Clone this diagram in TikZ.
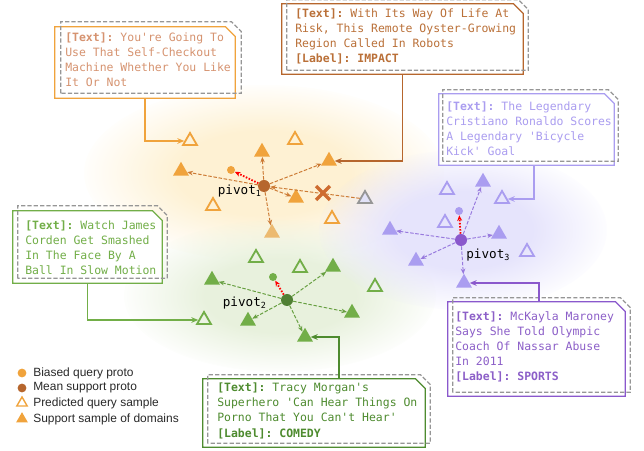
\documentclass[tikz,border=0pt]{standalone}
\usepackage{fontspec}
\setmonofont{DejaVu Sans Mono}
\setsansfont{Liberation Sans}
\usetikzlibrary{shapes.geometric,shapes.misc,arrows.meta,fadings}

\definecolor{orng}{RGB}{240,163,60}
\definecolor{orngtxt}{RGB}{214,147,112}
\definecolor{orngline}{RGB}{204,122,52}
\definecolor{orngpale}{RGB}{236,186,112}
\definecolor{brwn}{RGB}{182,102,45}
\definecolor{brwntxt}{RGB}{186,112,56}
\definecolor{crossclr}{RGB}{206,108,48}
\definecolor{grn}{RGB}{114,174,72}
\definecolor{grndark}{RGB}{80,128,52}
\definecolor{grntxt}{RGB}{78,139,47}
\definecolor{grnline}{RGB}{104,160,66}
\definecolor{lav}{RGB}{170,157,240}
\definecolor{lavfill}{RGB}{226,226,248}
\definecolor{prpl}{RGB}{138,88,204}
\definecolor{prpltxt}{RGB}{140,95,200}
\definecolor{prplline}{RGB}{152,122,222}
\definecolor{ghostgray}{RGB}{150,150,150}
\definecolor{keytxt}{RGB}{40,40,40}
\definecolor{blobO}{RGB}{254,241,211}
\definecolor{blobG}{RGB}{232,241,221}
\definecolor{blobP}{RGB}{230,228,252}

\newcommand{\apos}{\textquotesingle}
\newcommand{\chamferpath}[1]{(#1.south west) -- (#1.north west) -- ([xshift=-7pt]#1.north east) -- ([yshift=-7pt]#1.north east) -- (#1.south east) -- cycle}

\pgfdeclareradialshading{blobshading}{\pgfpointorigin}{color(0bp)=(pgftransparent!0); color(12bp)=(pgftransparent!0); color(26bp)=(pgftransparent!100); color(50bp)=(pgftransparent!100)}
\pgfdeclarefading{blob}{\pgfuseshading{blobshading}}

\tikzset{
	support/.style={regular polygon, regular polygon sides=3, inner sep=0pt, minimum size=0.46cm, fill=#1},
	query/.style={regular polygon, regular polygon sides=3, inner sep=0pt, minimum size=0.40cm, draw=#1, line width=1.3pt},
	pivot/.style={circle, inner sep=0pt, minimum size=0.3cm, fill=#1},
	proto/.style={circle, inner sep=0pt, minimum size=0.2cm, fill=#1},
	spoke/.style={draw=#1, line width=0.7pt, dash pattern=on 2.5pt off 1.2pt, -{Stealth[length=4pt,width=3.2pt]}},
	drift/.style={draw=red, line width=1.3pt, dash pattern=on 1.1pt off 1.1pt, -{Stealth[length=4pt,width=3.5pt]}},
	box/.style={rectangle, inner sep=0pt},
	frame/.style={draw=#1, line width=0.9pt, fill=white},
	ghost/.style={draw=ghostgray, line width=0.9pt, dash pattern=on 3pt off 1.5pt},
	note/.style={anchor=north west, inner sep=0pt, align=left, text=#1, font=\ttfamily\fontsize{8.15}{10.67}\selectfont},
	link/.style={draw=#1, line width=0.9pt, -{Stealth[length=5pt,width=4pt]}},
	lbl/.style={inner sep=0pt, font=\ttfamily\fontsize{9}{10}\selectfont},
	key/.style={anchor=west, inner sep=0pt, text=keytxt, font=\sffamily\fontsize{8.5}{9}\selectfont},
}

\begin{document}
\begin{tikzpicture}[x=0.025cm, y=-0.025cm]

	\useasboundingbox (0,0) rectangle (644,451);

	% domain clouds
	\fill[blobO, path fading=blob] (264,173) ellipse [x radius=4.5cm, y radius=2.2cm];
	\fill[blobG, path fading=blob] (280,296) ellipse [x radius=3.9cm, y radius=1.9cm];
	\fill[blobP, path fading=blob] (463,230) ellipse [x radius=3.6cm, y radius=2.0cm];

	% domain 1
	\node[pivot=brwn] (p1) at (264,186) {};
	\node[proto=orng] (m1) at (231,170) {};
	\node[support=orng] (s1a) at (262,152) {};
	\node[support=orng] (s1b) at (181,171) {};
	\node[support=orng] (s1c) at (329,161) {};
	\node[support=orng] (s1d) at (296,198) {};
	\node[support=orngpale] (s1e) at (272,233) {};
	\node[query=orng] (q1a) at (190,141) {};
	\node[query=orng] (q1b) at (295,140) {};
	\node[query=orng] (q1c) at (213,206) {};
	\node[query=orng] (q1d) at (332,219) {};
	\node[query=ghostgray, fill=lavfill] (g1) at (365,199) {};
	\node[lbl, anchor=north east] (n1) at (262,185) {pivot\textsubscript{1}};

	\foreach \s in {s1a,s1b,s1c,s1d,s1e}
		\draw[spoke=orngline] (p1) -- (\s);
	\draw[spoke=orngline] (g1) -- (p1);
	\draw[drift] (p1) -- (m1);
	\node[cross out, draw=crossclr, line width=2.4pt, minimum size=0.26cm, inner sep=0pt] (x1) at (323,193) {};

	% domain 2
	\node[pivot=grndark] (p2) at (287,300) {};
	\node[proto=grn] (m2) at (273,277) {};
	\node[support=grn] (s2a) at (212,280) {};
	\node[support=grn] (s2b) at (333,267) {};
	\node[support=grn] (s2c) at (352,313) {};
	\node[support=grn] (s2d) at (248,321) {};
	\node[support=grn] (s2e) at (305,337) {};
	\node[query=grn] (q2a) at (256,258) {};
	\node[query=grn] (q2b) at (300,268) {};
	\node[query=grn] (q2c) at (204,320) {};
	\node[query=grn] (q2d) at (375,287) {};
	\node[lbl, anchor=north east] (n2) at (267,297) {pivot\textsubscript{2}};

	\foreach \s in {s2a,s2b,s2c,s2d,s2e}
		\draw[spoke=grnline] (p2) -- (\s);
	\draw[drift] (p2) -- (m2);

	% domain 3
	\node[pivot=prpl] (p3) at (461,240) {};
	\node[proto=lav] (m3) at (459,211) {};
	\node[support=lav] (s3a) at (483,182) {};
	\node[support=lav] (s3b) at (499,234) {};
	\node[support=lav] (s3c) at (390,230) {};
	\node[support=lav] (s3d) at (416,261) {};
	\node[support=lav] (s3e) at (464,283) {};
	\node[query=lav] (q3a) at (447,190) {};
	\node[query=lav] (q3b) at (502,199) {};
	\node[query=lav] (q3c) at (445,223) {};
	\node[query=lav] (q3d) at (527,252) {};
	\node[lbl, anchor=north west] (n3) at (466,249) {pivot\textsubscript{3}};

	\foreach \s in {s3a,s3b,s3c,s3d,s3e}
		\draw[spoke=prplline] (p3) -- (\s);
	\draw[drift] (p3) -- (m3);

	% sample boxes
	\node[box, minimum width=4.5cm, minimum height=1.775cm] (b1) at (145,62.5) {};
	\node[box, minimum width=4.5cm, minimum height=1.775cm] (b1g) at ([shift={(6,-5)}]b1.center) {};
	\draw[frame=orng] \chamferpath{b1};
	\draw[ghost] \chamferpath{b1g};
	\node[note=orngtxt] (t1) at (65,33) {\textbf{[Text]:} You\apos re Going To\\Use That Self-Checkout\\Machine Whether You Like\\It Or Not};

	\node[box, minimum width=6.025cm, minimum height=1.75cm] (b2) at (402.5,39) {};
	\node[box, minimum width=6.025cm, minimum height=1.75cm] (b2g) at ([shift={(5,-4)}]b2.center) {};
	\draw[frame=brwn] \chamferpath{b2};
	\draw[ghost] \chamferpath{b2g};
	\node[note=brwntxt] (t2) at (295,9) {\textbf{[Text]:} With Its Way Of Life At\\Risk, This Remote Oyster-Growing\\Region Called In Robots\\\textbf{[Label]: IMPACT}};

	\node[box, minimum width=4.375cm, minimum height=1.775cm] (b3) at (526.5,129.5) {};
	\node[box, minimum width=4.375cm, minimum height=1.775cm] (b3g) at ([shift={(4,-4)}]b3.center) {};
	\draw[frame=lav] \chamferpath{b3};
	\draw[ghost] \chamferpath{b3g};
	\node[note=lav] (t3) at (446,102) {\textbf{[Text]:} The Legendary\\Cristiano Ronaldo Scores\\A Legendary \apos Bicycle\\Kick\apos{} Goal};

	\node[box, minimum width=3.725cm, minimum height=1.8cm] (b4) at (87.5,247) {};
	\node[box, minimum width=3.725cm, minimum height=1.8cm] (b4g) at ([shift={(5,-5)}]b4.center) {};
	\draw[frame=grn] \chamferpath{b4};
	\draw[ghost] \chamferpath{b4g};
	\node[note=grn] (t4) at (25,221) {\textbf{[Text]:} Watch James\\Corden Get Smashed\\In The Face By A\\Ball In Slow Motion};

	\node[box, minimum width=4.425cm, minimum height=2.35cm] (b5) at (536.5,349) {};
	\node[box, minimum width=4.425cm, minimum height=2.35cm] (b5g) at ([shift={(5,-4)}]b5.center) {};
	\draw[frame=prpl] \chamferpath{b5};
	\draw[ghost] \chamferpath{b5g};
	\node[note=prpltxt] (t5) at (455,311) {\textbf{[Text]:} McKayla Maroney\\Says She Told Olympic\\Coach Of Nassar Abuse\\In 2011\\\textbf{[Label]: SPORTS}};

	\node[box, minimum width=5.55cm, minimum height=1.7cm] (b6) at (314,413) {};
	\node[box, minimum width=5.55cm, minimum height=1.7cm] (b6g) at ([shift={(5,-4)}]b6.center) {};
	\draw[frame=grntxt] \chamferpath{b6};
	\draw[ghost] \chamferpath{b6g};
	\node[note=grntxt] (t6) at (217,383) {\textbf{[Text]:} Tracy Morgan\apos s\\Superhero \apos Can Hear Things On\\Porno That You Can\apos t Hear\apos\\\textbf{[Label]: COMEDY}};

	\draw[link=orng] (b1.south) |- (q1a);
	\draw[link=brwn] (b2.south) |- (s1c);
	\draw[link=lav] ([shift={(7.5,0)}]b3.south) |- (q3b);
	\draw[link=grn] (b4.south) |- (q2c);
	\draw[link=prpl] ([shift={(2.5,0)}]b5.north) |- (s3e);
	\draw[link=grntxt] ([shift={(25,0)}]b6.north) |- (s2e);

	% legend
	\node[proto=orng, minimum size=0.22cm] (k1) at (22,373) {};
	\node[proto=brwn, minimum size=0.22cm] (k2) at (22,388) {};
	\node[query=orng, minimum size=0.3cm, line width=1pt] (k3) at (22,403) {};
	\node[support=orng, minimum size=0.34cm] (k4) at (22,419) {};
	\node[key] (k1t) at (33,373) {Biased query proto};
	\node[key] (k2t) at (33,388) {Mean support proto};
	\node[key] (k3t) at (33,403) {Predicted query sample};
	\node[key] (k4t) at (33,419) {Support sample of domains};

\end{tikzpicture}
\end{document}
